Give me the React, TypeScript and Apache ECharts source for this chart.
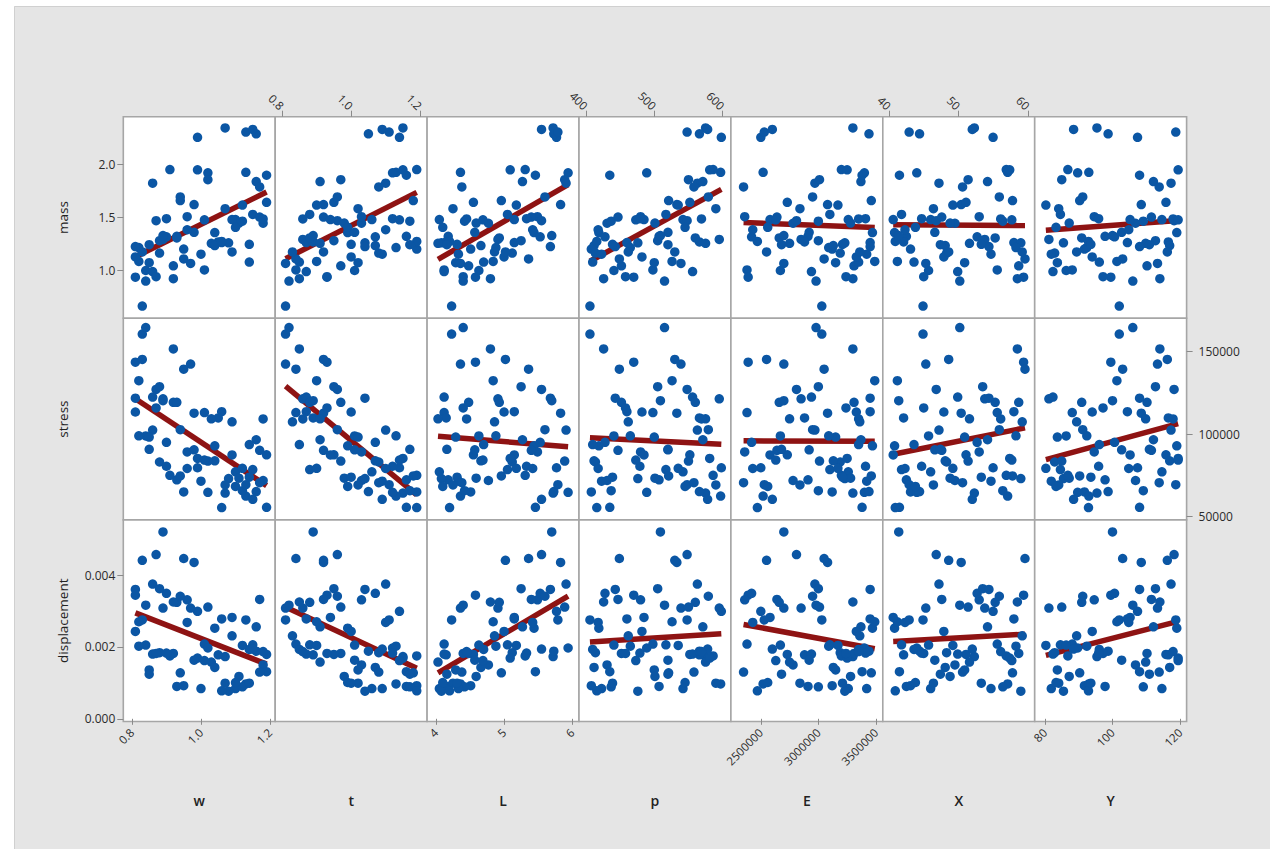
import React, { useEffect, useRef } from "react";
import * as echarts from "echarts";

// Beam design study: 72 runs, seven inputs and three responses.
const wVals = [0.83,1.07,0.92,1.15,0.86,1.01,1.18,0.95,0.81,1.10,0.89,1.04,1.13,0.98,0.84,1.16,0.93,1.06,0.88,1.19,1.02,0.82,1.12,0.96,1.08,0.87,1.14,0.99,0.85,1.17,0.94,1.05,0.90,1.11,0.97,0.82,1.09,1.00,0.86,1.16,0.91,1.03,0.81,1.13,0.95,1.07,0.88,1.19,0.93,1.04,0.84,1.10,0.99,0.87,1.15,0.92,1.06,0.81,1.12,0.98,0.90,1.18,1.02,0.85,1.09,0.96,1.14,0.83,1.01,0.89,1.17,0.94];
const tVals = [0.81,1.15,0.97,0.88,1.10,0.84,1.03,1.19,0.93,1.06,0.86,0.99,1.13,0.92,1.01,0.91,1.16,0.87,1.08,0.95,1.12,0.90,1.17,1.03,1.04,0.96,0.85,1.14,1.02,0.92,1.18,0.89,1.07,0.98,0.81,1.13,0.94,1.09,0.87,1.05,1.19,0.91,1.00,1.11,0.84,1.02,0.95,1.16,0.88,1.07,0.82,0.99,1.15,0.93,1.09,0.85,1.19,1.04,0.90,1.01,1.12,0.86,0.97,1.17,0.83,1.10,1.00,0.92,1.14,0.89,1.08,0.96];
const LVals = [4.23,5.72,4.48,5.05,5.91,4.12,4.77,4.51,4.58,4.05,4.91,5.44,4.36,5.83,4.63,5.27,4.18,5.15,5.12,4.55,5.94,4.84,4.42,5.49,4.08,5.55,4.70,5.77,4.29,5.40,4.96,4.15,5.53,4.59,4.36,4.88,5.15,4.33,4.12,5.73,5.31,4.03,5.00,5.79,5.36,4.25,5.25,5.46,4.93,4.66,4.40,4.10,5.09,4.40,5.55,4.80,4.20,5.68,5.18,4.57,5.33,4.45,5.89,4.16,4.86,5.42,4.31,5.02,4.69,5.70,4.38,5.60];
const pVals = [406,575,452,517,563,498,431,408,470,542,595,419,597,533,441,571,507,460,414,552,489,526,437,480,476,548,410,598,500,447,521,566,428,501,539,465,485,423,556,566,586,575,482,548,449,590,505,435,560,412,515,545,581,458,578,426,416,443,535,520,479,569,550,520,462,418,439,530,473,509,558,579];
const EVals = [3030000,3300000,3310000,3100000,2970000,2380000,2780000,3120000,2390000,3260000,2850000,3470000,2520000,3080000,2670000,3370000,2910000,3450000,3190000,2730000,3400000,3490000,3000000,2360000,3230000,2810000,3350000,2500000,3150000,2640000,3460000,2880000,2420000,3280000,2700000,3090000,2580000,3420000,2940000,3440000,3200000,2750000,3330000,2530000,3050000,2840000,3000000,3380000,2660000,3130000,2980000,2560000,3250000,3240000,2600000,3300000,2470000,3450000,3170000,2920000,3410000,3350000,3010000,2680000,3360000,2430000,3210000,2550000,2630000,2700000,2350000,2950000];
const XVals = [44.9,52.3,58.7,41.8,47.2,55.6,49.5,43.1,59.4,46.0,53.8,40.8,57.1,50.4,45.7,54.2,42.5,58.0,48.3,51.1,44.0,41.2,56.4,53.0,59.0,46.8,43.6,55.0,50.9,47.6,57.8,42.1,52.7,48.8,45.3,58.3,40.6,54.7,49.9,44.4,56.9,51.6,47.9,42.9,59.6,46.4,53.5,41.5,55.3,48.1,50.2,43.8,57.4,45.0,52.0,58.5,40.9,54.4,49.2,46.6,44.7,56.1,51.4,47.4,59.2,42.3,53.3,48.6,57.7,41.4,50.6,55.9];
const YVals = [102.0,95.4,110.2,84.6,117.3,88.1,106.8,91.7,99.5,114.6,81.2,119.0,93.0,108.5,86.3,112.1,97.8,104.4,82.9,115.8,89.7,101.3,109.1,94.6,85.5,118.2,96.1,107.4,83.7,111.5,90.3,116.5,100.6,87.2,113.3,92.4,105.2,81.9,82.4,98.7,86.8,109.8,94.0,118.7,103.0,84.1,112.7,108.0,90.9,116.9,106.0,83.3,119.4,97.2,88.5,114.0,92.9,108.0,80.3,102.7,95.9,117.9,85.0,110.9,89.4,104.8,93.6,116.2,119.4,100.0,113.8,91.2];

const massVals = [0.668,2.342,1.046,1.529,1.822,1.007,1.446,1.203,0.939,1.481,1.294,1.358,1.924,1.621,1.002,1.838,1.323,1.264,1.166,1.643,1.920,1.087,1.465,1.508,1.262,1.470,1.081,2.253,1.076,1.504,1.659,1.270,1.319,1.448,1.069,1.217,1.481,1.155,0.992,2.286,1.950,1.257,1.130,2.303,1.111,1.583,1.282,1.897,1.308,1.236,0.903,1.408,1.948,0.944,2.327,0.925,1.275,1.227,1.617,1.361,1.489,1.487,1.855,1.245,1.176,1.385,1.248,1.176,1.478,1.330,1.787,1.693];
const stressVals = [160680,64280,119280,78550,102440,113100,71890,64980,143630,77160,121400,92900,62420,112700,98900,96600,72300,113650,83110,87490,64720,132400,65700,89230,73090,127100,93680,79620,98230,90220,74650,109800,95060,73330,142500,98980,87370,71470,122500,65160,75060,109300,113420,69320,139400,69170,128800,55630,119300,83840,164600,68300,85270,115900,60500,151700,55490,121800,79260,90490,80530,109200,83700,90830,107500,79170,73870,145300,84300,120300,70570,102700];
const dispVals = [0.00275,0.00173,0.00182,0.00206,0.00375,0.00208,0.00150,0.00092,0.00344,0.00084,0.00308,0.00252,0.00097,0.00435,0.00205,0.00256,0.00090,0.00278,0.00184,0.00179,0.00197,0.00270,0.00089,0.00331,0.00077,0.00457,0.00193,0.00299,0.00136,0.00332,0.00128,0.00178,0.00349,0.00118,0.00308,0.00202,0.00282,0.00084,0.00180,0.00188,0.00175,0.00158,0.00243,0.00275,0.00446,0.00099,0.00362,0.00131,0.00324,0.00143,0.00316,0.00101,0.00169,0.00182,0.00194,0.00325,0.00078,0.00360,0.00204,0.00163,0.00183,0.00187,0.00311,0.00124,0.00231,0.00268,0.00099,0.00441,0.00162,0.00520,0.00130,0.00341];

const inputNames = ["w", "t", "L", "p", "E", "X", "Y"];
const outputNames = ["mass", "stress", "displacement"];
const inputCols = [wVals, tVals, LVals, pVals, EVals, XVals, YVals];
const outputCols = [massVals, stressVals, dispVals];

// Axis extents and tick values
const xRanges = [[0.775, 1.215], [0.78, 1.22], [3.87, 6.1], [390, 612], [2240000, 3560000], [39.1, 61.0], [77.0, 121.9]];
const yRanges = [[0.553, 2.447], [48000, 170240], [-0.000075, 0.005534]];
const xTicks = [[0.8, 1.0, 1.2], [0.8, 1.0, 1.2], [4, 5, 6], [400, 500, 600], [2500000, 3000000, 3500000], [40, 50, 60], [80, 100, 120]];
const yTicks = [[1.0, 1.5, 2.0], [50000, 100000, 150000], [0, 0.002, 0.004]];
const xDecimals = [1, 1, 0, 0, 0, 0, 0];
const yDecimals = [1, 0, 3];

// Panel layout (px)
const LEFT = 123.3;
const TOP = 116.7;
const CELL_W = 151.9;
const CELL_H = 201.6;

const FONT = "'Open Sans', 'Noto Sans', sans-serif";
const DOT = "#0b56a4";
const FIT = "#8e1313";
const BORDER = "#a6a6a6";

function leastSquares(xs: number[], ys: number[]) {
  const n = Math.min(xs.length, ys.length);
  let sx = 0, sy = 0;
  for (let i = 0; i < n; i++) { sx += xs[i]; sy += ys[i]; }
  const mx = sx / n, my = sy / n;
  let sxy = 0, sxx = 0, lo = Infinity, hi = -Infinity;
  for (let i = 0; i < n; i++) {
    sxy += (xs[i] - mx) * (ys[i] - my);
    sxx += (xs[i] - mx) * (xs[i] - mx);
    lo = Math.min(lo, xs[i]);
    hi = Math.max(hi, xs[i]);
  }
  const b = sxy / sxx;
  const a = my - b * mx;
  return [[lo, a + b * lo], [hi, a + b * hi]];
}

function buildOption() {
  const grid: any[] = [];
  const xAxis: any[] = [];
  const yAxis: any[] = [];
  const series: any[] = [];
  const tickStyle = { show: true, length: 6, lineStyle: { color: "#8a8a8a", width: 1 } };
  const labelBase = { show: true, fontSize: 12, color: "#2b2b2b", fontFamily: FONT };

  for (let r = 0; r < 3; r++) {
    for (let c = 0; c < 7; c++) {
      const k = r * 7 + c;
      grid.push({
        left: LEFT + c * CELL_W,
        top: TOP + r * CELL_H,
        width: CELL_W,
        height: CELL_H,
        show: true,
        backgroundColor: "#ffffff",
        borderColor: BORDER,
        borderWidth: 1.6,
        containLabel: false,
        outerBoundsMode: "none",
      });
      const showX = (r === 2 && c % 2 === 0) || (r === 0 && c % 2 === 1);
      xAxis.push({
        type: "value",
        gridIndex: k,
        min: xRanges[c][0],
        max: xRanges[c][1],
        position: r === 0 ? "top" : "bottom",
        show: showX,
        axisLine: { show: false },
        splitLine: { show: false },
        axisTick: { ...tickStyle, customValues: xTicks[c] },
        axisLabel: {
          ...labelBase,
          fontSize: 11.5,
          customValues: xTicks[c],
          rotate: 45,
          margin: 9,
          formatter: (v: number) => v.toFixed(xDecimals[c]),
        },
      });
      const showY = (c === 0 && (r === 0 || r === 2)) || (c === 6 && r === 1);
      yAxis.push({
        type: "value",
        gridIndex: k,
        min: yRanges[r][0],
        max: yRanges[r][1],
        position: c === 6 ? "right" : "left",
        show: showY,
        axisLine: { show: false },
        splitLine: { show: false },
        axisTick: { ...tickStyle, customValues: yTicks[r] },
        axisLabel: {
          ...labelBase,
          customValues: yTicks[r],
          margin: c === 6 ? 12 : 8,
          formatter: (v: number) => v.toFixed(yDecimals[r]),
        },
      });

      const xs = inputCols[c];
      const ys = outputCols[r];
      const n = Math.min(xs.length, ys.length);
      const pts: number[][] = [];
      for (let i = 0; i < n; i++) pts.push([xs[i], ys[i]]);

      series.push({
        type: "line",
        xAxisIndex: k,
        yAxisIndex: k,
        data: leastSquares(xs, ys),
        symbol: "none",
        lineStyle: { color: FIT, width: 5.5, cap: "butt" },
        silent: true,
        z: 2,
      });
      series.push({
        type: "scatter",
        xAxisIndex: k,
        yAxisIndex: k,
        data: pts,
        symbol: "circle",
        symbolSize: 9.5,
        itemStyle: { color: DOT, opacity: 1 },
        silent: true,
        z: 3,
      });
    }
  }

  const graphic: any[] = [
    // white margin around the figure region
    { type: "rect", shape: { x: 0, y: 0, width: 1270, height: 6 }, style: { fill: "#ffffff" }, silent: true },
    { type: "rect", shape: { x: 0, y: 0, width: 14, height: 849 }, style: { fill: "#ffffff" }, silent: true },
    { type: "line", shape: { x1: 14.5, y1: 6.5, x2: 1270, y2: 6.5 }, style: { stroke: "#d0d0d0", lineWidth: 1 }, silent: true },
    { type: "line", shape: { x1: 14.5, y1: 6.5, x2: 14.5, y2: 849 }, style: { stroke: "#d0d0d0", lineWidth: 1 }, silent: true },
  ];
  outputNames.forEach((name, r) => {
    graphic.push({
      type: "text",
      x: 63,
      y: TOP + r * CELL_H + CELL_H / 2,
      rotation: Math.PI / 2,
      style: { text: name, fontSize: 13.5, fill: "#222", fontFamily: FONT, align: "center", verticalAlign: "middle" },
      silent: true,
    });
  });
  inputNames.forEach((name, c) => {
    graphic.push({
      type: "text",
      x: LEFT + c * CELL_W + CELL_W / 2,
      y: 800,
      style: { text: name, fontSize: 14, fontWeight: 600, fill: "#222", fontFamily: FONT, align: "center", verticalAlign: "middle" },
      silent: true,
    });
  });

  return {
    animation: false,
    backgroundColor: "#e5e5e5",
    grid,
    xAxis,
    yAxis,
    series,
    graphic,
  };
}

export default function App() {
  const ref = useRef<HTMLDivElement>(null);
  useEffect(() => {
    if (!ref.current) return;
    const chart = echarts.init(ref.current, undefined, { renderer: "svg" });
    chart.setOption(buildOption());
    return () => chart.dispose();
  }, []);
  return (
    <div
      ref={ref}
      style={{ position: "absolute", left: 0, top: 0, width: 1270, height: 849 }}
    />
  );
}
